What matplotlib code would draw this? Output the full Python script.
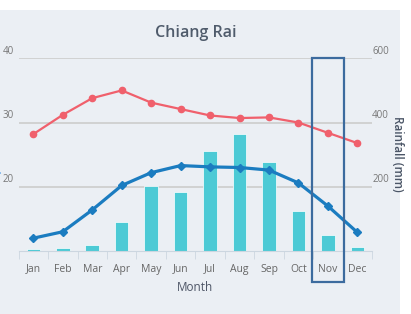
import matplotlib.pyplot as plt
import numpy as np
from matplotlib.patches import Rectangle

months = ['Jan', 'Feb', 'Mar', 'Apr', 'May', 'Jun', 'Jul', 'Aug', 'Sep', 'Oct', 'Nov', 'Dec']
temp_max = [28.2, 31.2, 33.8, 35.0, 33.1, 32.1, 31.1, 30.7, 30.8, 30.0, 28.4, 26.8]
temp_min = [12.0, 13.0, 16.4, 20.2, 22.2, 23.3, 23.1, 23.0, 22.6, 20.6, 17.0, 12.9]
rainfall = [6, 10, 18, 89, 203, 183, 312, 364, 276, 126, 49, 12]
temp_ticks = [20, 30, 40]
rain_ticks = [200, 400, 600]

plt.rcParams['font.family'] = ['Open Sans', 'DejaVu Sans']

fig = plt.figure(figsize=(4.11, 3.14), dpi=100, facecolor='white')
# light panel behind the chart (white strip on top and right)
fig.patches.append(Rectangle((0, 0), 400 / 411, 304 / 314, transform=fig.transFigure,
                             facecolor='#ebeff4', edgecolor='none', zorder=-10))

ax = fig.add_axes([0.0453, 0.2006, 0.860, 0.6137])
ax.set_facecolor('none')
x = np.arange(len(months))

# rainfall bars (right scale)
ax.bar(x, rainfall, width=0.46, color='#4ccad5', edgecolor='white', linewidth=0.5, zorder=2)
ax.set_ylim(0, 600)
ax.set_xlim(-0.5, 11.5)
ax.set_yticks(rain_ticks)
ax.grid(axis='y', color='#cfcfcf', linewidth=1.3)
ax.set_axisbelow(True)
ax.tick_params(axis='y', length=0, labelleft=False, labelright=False)
for s in ['top', 'left', 'right']:
    ax.spines[s].set_visible(False)
ax.spines['bottom'].set_color('#ccd6e0')
ax.set_xticks(x)
ax.set_xticklabels(months)
ax.set_xticks(np.arange(-0.5, 12, 1), minor=True)
ax.tick_params(axis='x', which='major', length=0, pad=9, labelsize=7.5, labelcolor='#666666')
ax.tick_params(axis='x', which='minor', length=6, color='#ccd6e0')
ax.set_xlabel('Month', fontsize=8.5, color='#4d5566', labelpad=5)

for v in rain_ticks:
    ax.annotate(str(v), xy=(1, v), xycoords=('axes fraction', 'data'), xytext=(0, 7),
                textcoords='offset pixels', ha='left', va='center', fontsize=7, color='#777777')

# temperature lines (left scale)
ax2 = ax.twinx()
ax2.set_ylim(10, 40)
ax2.plot(x, temp_max, color='#f0606c', linewidth=1.6, marker='o', markersize=4.5, zorder=3)
ax2.plot(x, temp_min, color='#1b7cc0', linewidth=2.3, marker='D', markersize=4.5, zorder=3)
ax2.set_yticks([])
for s in ax2.spines.values():
    s.set_visible(False)
for v in temp_ticks:
    ax2.annotate(str(v), xy=(0, v), xycoords=('axes fraction', 'data'), xytext=(-5, 7),
                 textcoords='offset pixels', ha='right', va='center', fontsize=7, color='#777777')

# highlight box around November, from the top gridline down below the month labels
ax2.add_patch(Rectangle((9.46, 5.2), 1.08, 34.8, fill=False, edgecolor='#3c6b9e',
                        linewidth=1.6, clip_on=False, zorder=5))

fig.text(196 / 411, 1 - 33 / 314, 'Chiang Rai', ha='center', va='center', fontsize=11.5,
         fontweight='semibold', color='#4f5b6b')
fig.text(397 / 411, 1 - 154 / 314, 'Rainfall (mm)', rotation=270, ha='center', va='center',
         fontsize=8.5, fontweight='semibold', color='#4a5566')
fig.text(-3 / 411, 1 - 150 / 314, 'Temperature (°C)', rotation=90, ha='center', va='center',
         fontsize=8, fontweight='bold', color='#7cb5ec')

fig.savefig('out.png', dpi=100, facecolor='white')
